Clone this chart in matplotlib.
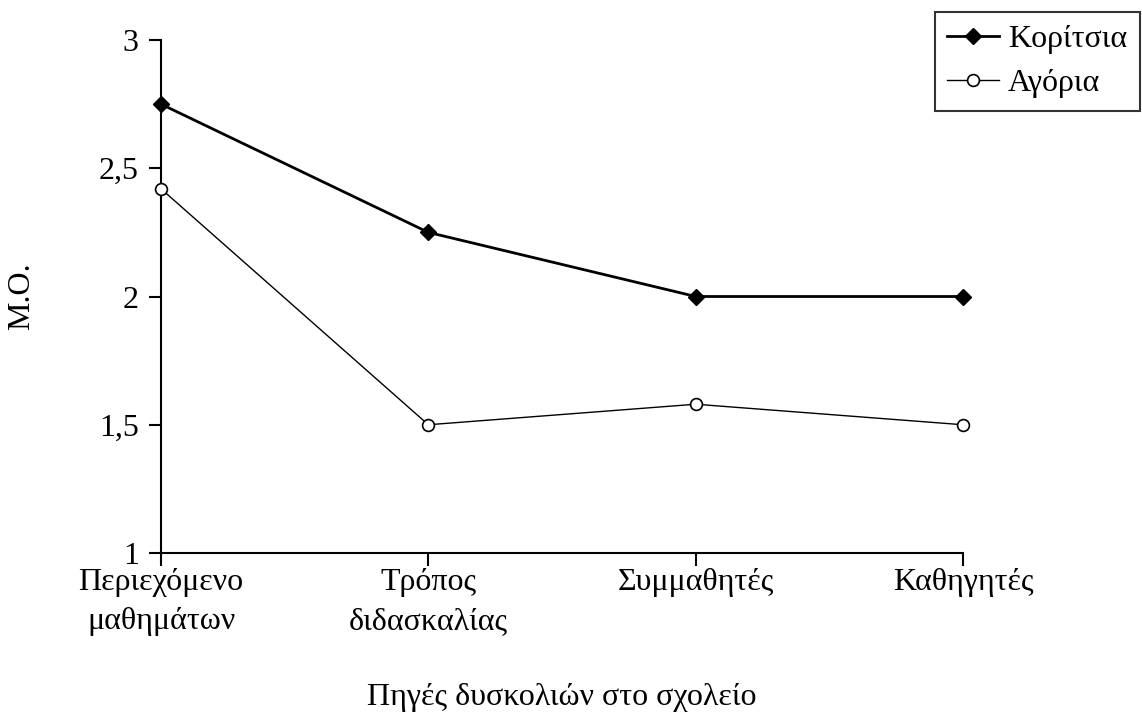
import matplotlib
matplotlib.use("Agg")
import matplotlib.pyplot as plt

categories = ["Περιεχόμενο\nμαθημάτων", "Τρόπος\nδιδασκαλίας", "Συμμαθητές", "Καθηγητές"]
girls = [2.75, 2.25, 2.0, 2.0]
boys = [2.42, 1.5, 1.58, 1.5]
yticks = [1, 1.5, 2, 2.5, 3]
ytick_labels = ["1", "1,5", "2", "2,5", "3"]

plt.rcParams["font.family"] = ["Liberation Serif", "DejaVu Serif"]
FS = 23
W, H = 1142, 713

fig = plt.figure(figsize=(W / 100, H / 100), dpi=100)
ax = fig.add_axes([161 / W, 1 - 553 / H, (963 - 161) / W, (553 - 40) / H])

x = list(range(len(categories)))
ax.plot(x, girls, color="black", lw=2, marker="D", ms=8.5, mfc="black", mec="black",
        label="Κορίτσια", clip_on=False, zorder=4)
ax.plot(x, boys, color="black", lw=1, marker="o", ms=8.5, mfc="white", mec="black",
        mew=1.2, label="Αγόρια", clip_on=False, zorder=4)

ax.set_xlim(0, 3)
ax.set_ylim(1, 3)
ax.set_yticks(yticks)
ax.set_yticklabels(ytick_labels, fontsize=FS)
ax.set_xticks(x)
ax.set_xticklabels(categories, fontsize=FS, linespacing=1.45)
ax.tick_params(axis="y", direction="out", length=9, width=1.5, pad=7)
ax.tick_params(axis="x", direction="out", length=9, width=1.5, pad=2)
ax.spines[["top", "right"]].set_visible(False)
for s in ["left", "bottom"]:
    ax.spines[s].set_linewidth(1.5)

fig.text(22 / W, 1 - 296 / H, "Μ.Ο.", fontsize=FS, rotation=90, ha="center", va="center")
fig.text(562 / W, 1 - 697 / H, "Πηγές δυσκολιών στο σχολείο", fontsize=FS,
         ha="center", va="center")

leg = fig.legend(loc="upper right", bbox_to_anchor=(1140 / W, 1 - 12 / H),
                 fontsize=FS, frameon=True, fancybox=False, handlelength=1.6,
                 handletextpad=0.3, borderpad=0.4, labelspacing=0.45,
                 borderaxespad=0)
leg.get_frame().set_edgecolor("black")
leg.get_frame().set_linewidth(1.5)

fig.savefig("out.png", dpi=100)
